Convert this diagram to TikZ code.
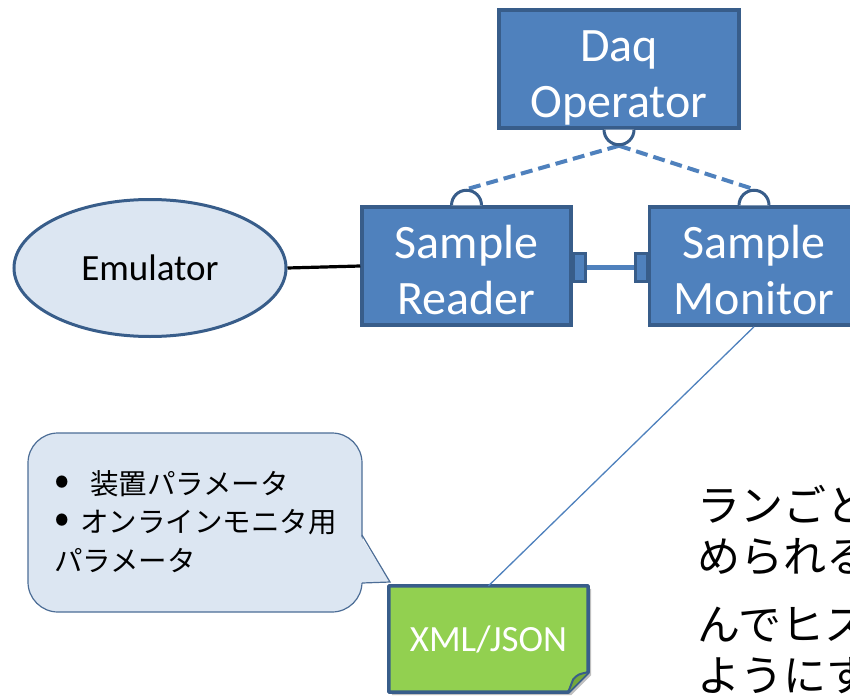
\documentclass[tikz,border=0pt]{standalone}
\usepackage{fontspec}
\setmainfont{Carlito}
\newfontfamily\jp{Noto Sans CJK JP}
\usetikzlibrary{calc,positioning,shapes.geometric,backgrounds}
\definecolor{compfill}{HTML}{4F81BD}
\definecolor{compline}{HTML}{385D8A}
\definecolor{lightfill}{HTML}{DCE6F2}
\definecolor{notefill}{HTML}{92D050}
\definecolor{foldfill}{HTML}{74A83C}
\newcommand{\bul}[1]{\makebox[#1][l]{\raisebox{-1pt}{\scalebox{1.6}{•}}}}

\begin{document}
\begin{tikzpicture}[x=1pt,y=1pt,
  comp/.style={rectangle, draw=compline, fill=compfill, line width=3.5pt, text=white, align=center,
    minimum width=209pt, minimum height=118pt, inner sep=0, font=\fontsize{48}{56}\selectfont},
  port/.style={rectangle, draw=compline, fill=compfill, line width=3pt, minimum width=12pt,
    minimum height=28pt, inner sep=0},
  socket/.style={draw=compline, fill=white, line width=3pt},
  service/.style={draw=compfill, line width=4pt, dash pattern=on 12pt off 6pt}]
\useasboundingbox (0,0) rectangle (850,-695);

% components
\node[comp, minimum width=240pt] (daq) at (619,-69) {\rule{0pt}{48pt}Daq\\Operator};
\node[comp] (reader) at (466.5,-266) {\rule{0pt}{41pt}Sample\\Reader};
\node[comp] (monitor) at (754,-266) {\rule{0pt}{41pt}Sample\\Monitor};
\node[ellipse, draw=compline, fill=lightfill, line width=3pt, minimum width=272pt, minimum height=137pt,
  font=\fontsize{37}{42}\selectfont] (emu) at (150,-268) {Emulator};

% service ports
\coordinate (dq) at ($(daq.south)+(0,-16)$);
\coordinate (rd) at ($(reader.north)+(0,16)$);
\coordinate (mn) at ($(monitor.north)+(0,16)$);
\draw[service] (dq) -- (rd);
\draw[service] (dq) -- (mn);
\draw[socket] ($(daq.south)+(-15,0)$) arc[start angle=180, end angle=360, radius=15];
\draw[socket] ($(reader.north)+(15,0)$) arc[start angle=0, end angle=180, radius=15];
\draw[socket] ($(monitor.north)+(15,0)$) arc[start angle=0, end angle=180, radius=15];

% data ports
\node[port, anchor=west] (rport) at ($(reader.east)+(-1,-1)$) {};
\node[port, anchor=east] (mport) at ($(monitor.west)+(1,-1)$) {};
\draw[compfill, line width=5pt] (rport.east) -- (mport.west);

\draw[black, line width=3.2pt] (emu.east) -- (reader.west);

% xml/json file
\node[text=white, minimum width=199pt, minimum height=106pt, inner sep=0,
  font=\fontsize{37}{42}\selectfont] (xml) at (488.5,-639) {XML/JSON};
\begin{scope}[on background layer]
\fill[black!25] ($(xml.north west)+(3,-3)$) -- ($(xml.north east)+(3,-3)$) -- ($(xml.south east)+(3,17)$)
  -- ($(xml.south east)+(-17,-3)$) -- ($(xml.south west)+(3,-3)$) -- cycle;
\draw[compline, fill=notefill, line width=3.5pt, line join=round] (xml.north west) -- (xml.north east)
  -- ($(xml.south east)+(0,20)$) -- ($(xml.south east)+(-20,0)$) -- (xml.south west) -- cycle;
\draw[compline, fill=foldfill, line width=2pt, line join=round] ($(xml.south east)+(0,20)$)
  .. controls ($(xml.south east)+(-10,18)$) .. ($(xml.south east)+(-15,13)$)
  -- ($(xml.south east)+(-20,0)$);
\end{scope}
\draw[compfill, line width=1.3pt] (monitor.south) -- (xml.north);

% callout
\draw[draw=compline!90, fill=lightfill, line width=1.2pt, rounded corners=30pt] (28,-433) rectangle (362,-612);
\fill[lightfill] (360,-535) -- (390,-582) -- (360,-583) -- cycle;
\draw[draw=compline!90, line width=1.2pt] (362,-535) -- (390,-582) -- (362,-583);
\node[anchor=north west, align=left, inner sep=0, font=\jp\fontsize{28.5}{38.5}\selectfont] (tip) at (54,-470)
  {\bul{36pt}装置パラメータ\\\bul{26pt}オンラインモニタ用\\パラメータ};

% run note
\node[anchor=north west, align=left, inner sep=0, font=\jp\fontsize{43}{51}\selectfont] (memo) at (697,-485)
  {ランごと\\められる\\[17pt]んでヒス\\ようにす};
\end{tikzpicture}
\end{document}
